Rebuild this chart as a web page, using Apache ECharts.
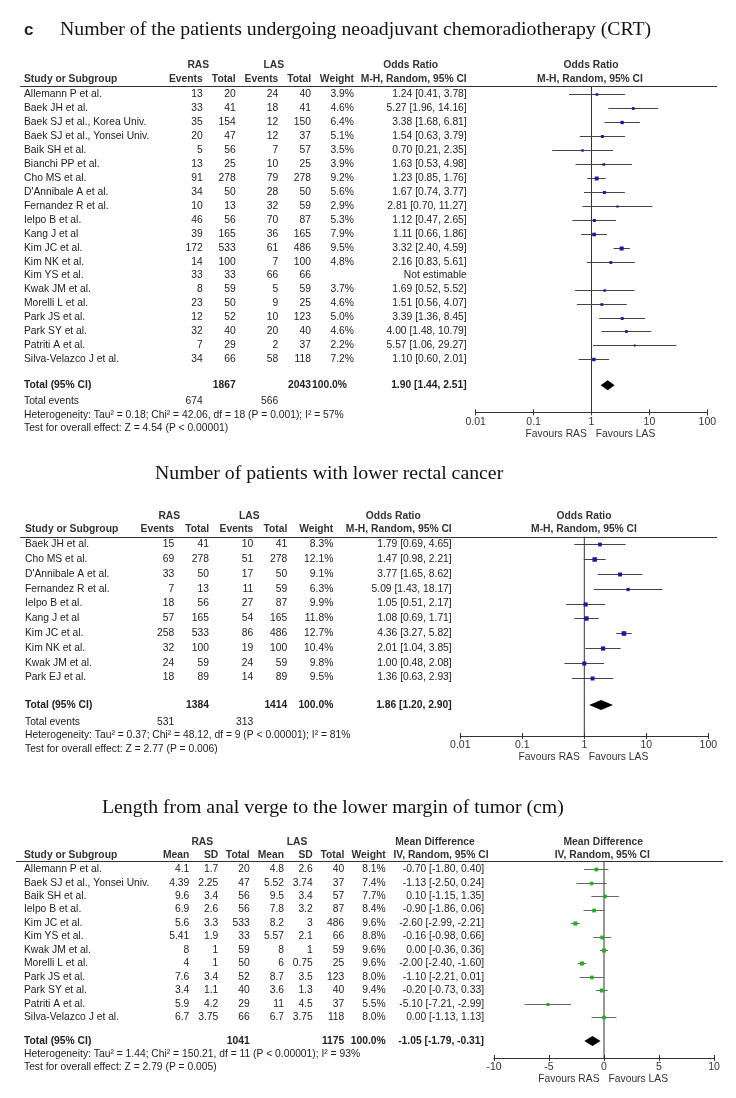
<!DOCTYPE html>
<html><head><meta charset="utf-8">
<script src="https://cdn.jsdelivr.net/npm/echarts@6/dist/echarts.min.js"></script>
<style>html,body{margin:0;padding:0;background:#fff}#c{width:736px;height:1098px}</style>
</head><body><div id="c"></div>
<script>
// ================= DATA =================
// Panel 1: neoadjuvant CRT
const crtStudies = ["Allemann P et al.","Baek JH et al.","Baek SJ et al., Korea Univ.","Baek SJ et al., Yonsei Univ.","Baik SH et al.","Bianchi PP et al.","Cho MS et al.","D'Annibale A et al.","Fernandez R et al.","Ielpo B et al.","Kang J et al","Kim JC et al.","Kim NK et al.","Kim YS et al.","Kwak JM et al.","Morelli L et al.","Park JS et al.","Park SY et al.","Patriti A et al.","Silva-Velazco J et al."];
const crtRasEvents = [13,33,35,20,5,13,91,34,10,46,39,172,14,33,8,23,12,32,7,34];
const crtRasTotal  = [20,41,154,47,56,25,278,50,13,56,165,533,100,33,59,50,52,40,29,66];
const crtLasEvents = [24,18,12,12,7,10,79,28,32,70,36,61,7,66,5,9,10,20,2,58];
const crtLasTotal  = [40,41,150,37,57,25,278,50,59,87,165,486,100,66,59,25,123,40,37,118];
const crtWeight    = [3.9,4.6,6.4,5.1,3.5,3.9,9.2,5.6,2.9,5.3,7.9,9.5,4.8,null,3.7,4.6,5.0,4.6,2.2,7.2];
const crtOR        = [1.24,5.27,3.38,1.54,0.70,1.63,1.23,1.67,2.81,1.12,1.11,3.32,2.16,null,1.69,1.51,3.39,4.00,5.57,1.10];
const crtLow       = [0.41,1.96,1.68,0.63,0.21,0.53,0.85,0.74,0.70,0.47,0.66,2.40,0.83,null,0.52,0.56,1.36,1.48,1.06,0.60];
const crtHigh      = [3.78,14.16,6.81,3.79,2.35,4.98,1.76,3.77,11.27,2.65,1.86,4.59,5.61,null,5.52,4.07,8.45,10.79,29.27,2.01];
const crtPooled    = [1.90,1.44,2.51];
const crtTotals    = [1867,2043];
const crtEvents    = [674,566];
const crtStats     = ["Heterogeneity: Tau\u00b2 = 0.18; Chi\u00b2 = 42.06, df = 18 (P = 0.001); I\u00b2 = 57%","Test for overall effect: Z = 4.54 (P < 0.00001)"];

// Panel 2: lower rectal cancer
const lrcStudies   = ["Baek JH et al.","Cho MS et al.","D'Annibale A et al.","Fernandez R et al.","Ielpo B et al.","Kang J et al","Kim JC et al.","Kim NK et al.","Kwak JM et al.","Park EJ et al."];
const lrcRasEvents = [15,69,33,7,18,57,258,32,24,18];
const lrcRasTotal  = [41,278,50,13,56,165,533,100,59,89];
const lrcLasEvents = [10,51,17,11,27,54,86,19,24,14];
const lrcLasTotal  = [41,278,50,59,87,165,486,100,59,89];
const lrcWeight    = [8.3,12.1,9.1,6.3,9.9,11.8,12.7,10.4,9.8,9.5];
const lrcOR        = [1.79,1.47,3.77,5.09,1.05,1.08,4.36,2.01,1.00,1.36];
const lrcLow       = [0.69,0.98,1.65,1.43,0.51,0.69,3.27,1.04,0.48,0.63];
const lrcHigh      = [4.65,2.21,8.62,18.17,2.17,1.71,5.82,3.85,2.08,2.93];
const lrcPooled    = [1.86,1.20,2.90];
const lrcTotals    = [1384,1414];
const lrcEvents    = [531,313];
const lrcStats     = ["Heterogeneity: Tau\u00b2 = 0.37; Chi\u00b2 = 48.12, df = 9 (P < 0.00001); I\u00b2 = 81%","Test for overall effect: Z = 2.77 (P = 0.006)"];

// Panel 3: length from anal verge
const lenStudies   = ["Allemann P et al.","Baek SJ et al., Yonsei Univ.","Baik SH et al.","Ielpo B et al.","Kim JC et al.","Kim YS et al.","Kwak JM et al.","Morelli L et al.","Park JS et al.","Park SY et al.","Patriti A et al.","Silva-Velazco J et al."];
const lenRasMean   = [4.1,4.39,9.6,6.9,5.6,5.41,8,4,7.6,3.4,5.9,6.7];
const lenRasSD     = [1.7,2.25,3.4,2.6,3.3,1.9,1,1,3.4,1.1,4.2,3.75];
const lenRasTotal  = [20,47,56,56,533,33,59,50,52,40,29,66];
const lenLasMean   = [4.8,5.52,9.5,7.8,8.2,5.57,8,6,8.7,3.6,11,6.7];
const lenLasSD     = [2.6,3.74,3.4,3.2,3,2.1,1,0.75,3.5,1.3,4.5,3.75];
const lenLasTotal  = [40,37,57,87,486,66,59,25,123,40,37,118];
const lenWeight    = [8.1,7.4,7.7,8.4,9.6,8.8,9.6,9.6,8.0,9.4,5.5,8.0];
const lenMD        = [-0.70,-1.13,0.10,-0.90,-2.60,-0.16,0.00,-2.00,-1.10,-0.20,-5.10,0.00];
const lenLow       = [-1.80,-2.50,-1.15,-1.86,-2.99,-0.98,-0.36,-2.40,-2.21,-0.73,-7.21,-1.13];
const lenHigh      = [0.40,0.24,1.35,0.06,-2.21,0.66,0.36,-1.60,0.01,0.33,-2.99,1.13];
const lenPooled    = [-1.05,-1.79,-0.31];
const lenTotals    = [1041,1175];
const lenStats     = ["Heterogeneity: Tau\u00b2 = 1.44; Chi\u00b2 = 150.21, df = 11 (P < 0.00001); I\u00b2 = 93%","Test for overall effect: Z = 2.79 (P = 0.005)"];

const titles = ["Number of the patients undergoing neoadjuvant chemoradiotherapy (CRT)","Number of patients with lower rectal cancer","Length from anal verge to the lower margin of tumor (cm)"];
const orTicks = [0.01,0.1,1,10,100];
const mdTicks = [-10,-5,0,5,10];

// ================= LAYOUT =================
const SANS = "'Liberation Sans', Arial, sans-serif";
const SERIF = "'Liberation Serif', 'Times New Roman', serif";
const FS = 10.3;
const TXT = '#222', HDR = '#333';
const P1 = {y0:94.3, pitch:13.95, top:86, axisY:412.3, left:475.7, right:707.3, center:591.3, totalR:20.86};
const P2 = {y0:544.3, pitch:14.8,  top:536.7, axisY:736, left:460.3, right:708.3, center:584.3, totalR:10.86};
const P3 = {y0:869.3, pitch:13.45, top:861, axisY:1058, left:494, right:714, center:604, totalR:12.77};
function rowY(p, r){ return p.y0 + r*p.pitch; }

const G = [];
function T(text, x, y, align, opt){
  opt = opt || {};
  G.push({type:'text', silent:true, x:x, y:y, style:{
    text:String(text), font:(opt.bold?'bold ':'') + (opt.size||FS) + 'px ' + (opt.family||SANS),
    fill:opt.color||TXT, align:align, textAlign:align, verticalAlign:'middle', textVerticalAlign:'middle'}});
}
function HL(x1,x2,y){ G.push({type:'line', silent:true, shape:{x1:x1,y1:Math.round(y)+0.5,x2:x2,y2:Math.round(y)+0.5}, style:{stroke:'#333', lineWidth:1}}); }
const f2 = v => v.toFixed(2);
const ciText = (e,l,h) => f2(e) + ' [' + f2(l) + ', ' + f2(h) + ']';
const pct = v => v.toFixed(1) + '%';

// label + titles
T('c', 24, 30, 'left', {bold:true, size:17});
T(titles[0], 60, 30, 'left', {size:19.8, family:SERIF, color:'#111'});
T(titles[1], 155, 474, 'left', {size:19.8, family:SERIF, color:'#111'});
T(titles[2], 102, 808, 'left', {size:19.8, family:SERIF, color:'#111'});

// ---- Panel 1 table ----
(function(){
  const c = [202.7,235.7,278.3,311,354,466.7];
  const h = {bold:true, color:HDR};
  T('RAS',198.3,65,'center',h); T('LAS',273.7,65,'center',h);
  T('Odds Ratio',410.7,65,'center',h); T('Odds Ratio',591,65,'center',h);
  T('Study or Subgroup',24,79,'left',h);
  T('Events',c[0],79,'right',h); T('Total',c[1],79,'right',h);
  T('Events',c[2],79,'right',h); T('Total',c[3],79,'right',h);
  T('Weight',c[4],79,'right',h); T('M-H, Random, 95% CI',c[5],79,'right',h);
  T('M-H, Random, 95% CI',590,79,'center',h);
  HL(20,717,86);
  crtStudies.forEach((s,i)=>{
    const y = rowY(P1,i);
    T(s,24,y,'left');
    T(crtRasEvents[i],c[0],y,'right'); T(crtRasTotal[i],c[1],y,'right');
    T(crtLasEvents[i],c[2],y,'right'); T(crtLasTotal[i],c[3],y,'right');
    if (crtWeight[i]!=null) T(pct(crtWeight[i]),c[4],y,'right');
    T(crtOR[i]!=null ? ciText(crtOR[i],crtLow[i],crtHigh[i]) : 'Not estimable', c[5], y, 'right');
  });
  const yt = rowY(P1,P1.totalR), b={bold:true};
  T('Total (95% CI)',24,yt,'left',b); T(crtTotals[0],c[1],yt,'right',b); T(crtTotals[1],c[3],yt,'right',b);
  T('100.0%',347,yt,'right',b); T(ciText(crtPooled[0],crtPooled[1],crtPooled[2]),c[5],yt,'right',b);
  T('Total events',24,400.7,'left'); T(crtEvents[0],c[0],400.7,'right'); T(crtEvents[1],c[2],400.7,'right');
  T(crtStats[0],24,415,'left'); T(crtStats[1],24,428.3,'left');
  T('Favours RAS',P1.center-4.5,434,'right',{color:HDR}); T('Favours LAS',P1.center+4.5,434,'left',{color:HDR});
})();

// ---- Panel 2 table ----
(function(){
  const c = [174.3,209,253.3,287.3,333.3,451.7];
  const h = {bold:true, color:HDR};
  T('RAS',169.3,515.7,'center',h); T('LAS',249.3,515.7,'center',h);
  T('Odds Ratio',393.3,515.7,'center',h); T('Odds Ratio',584,515.7,'center',h);
  T('Study or Subgroup',25,529.3,'left',h);
  T('Events',c[0],529.3,'right',h); T('Total',c[1],529.3,'right',h);
  T('Events',c[2],529.3,'right',h); T('Total',c[3],529.3,'right',h);
  T('Weight',c[4],529.3,'right',h); T('M-H, Random, 95% CI',c[5],529.3,'right',h);
  T('M-H, Random, 95% CI',584,529.3,'center',h);
  HL(20,717,536.7);
  lrcStudies.forEach((s,i)=>{
    const y = rowY(P2,i);
    T(s,25,y,'left');
    T(lrcRasEvents[i],c[0],y,'right'); T(lrcRasTotal[i],c[1],y,'right');
    T(lrcLasEvents[i],c[2],y,'right'); T(lrcLasTotal[i],c[3],y,'right');
    T(pct(lrcWeight[i]),c[4],y,'right');
    T(ciText(lrcOR[i],lrcLow[i],lrcHigh[i]),c[5],y,'right');
  });
  const yt = rowY(P2,P2.totalR), b={bold:true};
  T('Total (95% CI)',25,yt,'left',b); T(lrcTotals[0],c[1],yt,'right',b); T(lrcTotals[1],c[3],yt,'right',b);
  T('100.0%',c[4],yt,'right',b); T(ciText(lrcPooled[0],lrcPooled[1],lrcPooled[2]),c[5],yt,'right',b);
  T('Total events',25,721.7,'left'); T(lrcEvents[0],c[0],721.7,'right'); T(lrcEvents[1],c[2],721.7,'right');
  T(lrcStats[0],25,735.5,'left'); T(lrcStats[1],25,749,'left');
  T('Favours RAS',P2.center-4.5,757,'right',{color:HDR}); T('Favours LAS',P2.center+4.5,757,'left',{color:HDR});
})();

// ---- Panel 3 table ----
(function(){
  const c = [189.3,218.3,249.7,284,312.7,344.3,385.7,484];
  const h = {bold:true, color:HDR};
  T('RAS',202.3,841.7,'center',h); T('LAS',297,841.7,'center',h);
  T('Mean Difference',435,841.7,'center',h); T('Mean Difference',603.3,841.7,'center',h);
  T('Study or Subgroup',24,855,'left',h);
  T('Mean',c[0],855,'right',h); T('SD',c[1],855,'right',h); T('Total',c[2],855,'right',h);
  T('Mean',c[3],855,'right',h); T('SD',c[4],855,'right',h); T('Total',c[5],855,'right',h);
  T('Weight',c[6],855,'right',h); T('IV, Random, 95% CI',441,855,'center',h);
  T('IV, Random, 95% CI',602.3,855,'center',h);
  HL(16,723,861);
  lenStudies.forEach((s,i)=>{
    const y = rowY(P3,i);
    T(s,24,y,'left');
    T(lenRasMean[i],c[0],y,'right'); T(lenRasSD[i],c[1],y,'right'); T(lenRasTotal[i],c[2],y,'right');
    T(lenLasMean[i],c[3],y,'right'); T(lenLasSD[i],c[4],y,'right'); T(lenLasTotal[i],c[5],y,'right');
    T(pct(lenWeight[i]),c[6],y,'right');
    T(ciText(lenMD[i],lenLow[i],lenHigh[i]),c[7],y,'right');
  });
  const yt = rowY(P3,P3.totalR), b={bold:true};
  T('Total (95% CI)',24,yt,'left',b); T(lenTotals[0],c[2],yt,'right',b); T(lenTotals[1],c[5],yt,'right',b);
  T('100.0%',c[6],yt,'right',b); T(ciText(lenPooled[0],lenPooled[1],lenPooled[2]),c[7],yt,'right',b);
  T(lenStats[0],24,1054,'left'); T(lenStats[1],24,1067,'left');
  T('Favours RAS',P3.center-4.5,1079,'right',{color:HDR}); T('Favours LAS',P3.center+4.5,1079,'left',{color:HDR});
})();

// ================= CHART =================
const panels = [P1,P2,P3];
const grids = panels.map(p => ({left:p.left, width:p.right-p.left, top:p.top, height:p.axisY-p.top, containLabel:false, outerBoundsMode:'none'}));
const yAxes = panels.map((p,i) => ({gridIndex:i, type:'value', inverse:true, show:false,
  min:(p.top-p.y0)/p.pitch, max:(p.axisY-p.y0)/p.pitch, splitLine:{show:false}}));
function xPair(i, isLog){
  const base = isLog ? {type:'log', logBase:10, min:orTicks[0], max:orTicks[orTicks.length-1]}
                     : {type:'value', min:mdTicks[0], max:mdTicks[mdTicks.length-1], interval:5};
  const common = Object.assign({gridIndex:i, position:'bottom', splitLine:{show:false}, minorTick:{show:false},
    axisLine:{show:true, onZero:false, lineStyle:{color:'#333', width:1}}}, base);
  return [
    Object.assign({}, common, {axisTick:{show:true, inside:false, length:3, lineStyle:{color:'#333'}},
      axisLabel:{show:true, margin:4, fontSize:10.5, fontFamily:SANS, color:'#333',
        formatter: v => String(+(+v).toPrecision(6))}}),
    Object.assign({}, common, {axisTick:{show:true, inside:true, length:3, lineStyle:{color:'#333'}}, axisLabel:{show:false}})
  ];
}
const xAxes = [].concat(xPair(0,true), xPair(1,true), xPair(2,false));

function studySeries(gi, est, lo, hi, w, fill, stroke){
  const data = [];
  est.forEach((e,i)=>{ if (e!=null) data.push([e, lo[i], hi[i], w[i], i]); });
  return {type:'custom', xAxisIndex:gi*2, yAxisIndex:gi, silent:true, clip:false,
    encode:{x:[0,1,2], y:4}, data:data,
    renderItem:(params, api)=>{
      const r = api.value(4);
      const pe = api.coord([api.value(0), r]), pl = api.coord([api.value(1), r]), ph = api.coord([api.value(2), r]);
      const s = Math.max(2, 1.3*Math.sqrt(api.value(3)));
      const yy = Math.round(pe[1]) + 0.5;
      return {type:'group', children:[
        {type:'line', shape:{x1:pl[0], y1:yy, x2:ph[0], y2:yy}, style:{stroke:stroke, lineWidth:1}},
        {type:'rect', shape:{x:pe[0]-s/2, y:yy-s/2, width:s, height:s}, style:{fill:fill}}
      ]};
    }};
}
function pooledSeries(gi, pooled, r){
  return {type:'custom', xAxisIndex:gi*2, yAxisIndex:gi, silent:true, clip:false,
    encode:{x:[0,1,2], y:3}, data:[[pooled[0], pooled[1], pooled[2], r]],
    renderItem:(params, api)=>{
      const rr = api.value(3);
      const pe = api.coord([api.value(0), rr]), pl = api.coord([api.value(1), rr]), ph = api.coord([api.value(2), rr]);
      const hh = 5;
      return {type:'polygon', shape:{points:[[pl[0],pe[1]],[pe[0],pe[1]-hh],[ph[0],pe[1]],[pe[0],pe[1]+hh]]}, style:{fill:'#000'}};
    }};
}
function refLine(gi, x){
  const ya = yAxes[gi];
  return {type:'line', xAxisIndex:gi*2, yAxisIndex:gi, silent:true, symbol:'none',
    data:[[x, ya.min],[x, ya.max]], lineStyle:{color:'#333', width:1}, z:1};
}

const series = [
  refLine(0,1), studySeries(0, crtOR, crtLow, crtHigh, crtWeight, '#1a1aa0', '#444'), pooledSeries(0, crtPooled, P1.totalR),
  refLine(1,1), studySeries(1, lrcOR, lrcLow, lrcHigh, lrcWeight, '#1a1aa0', '#444'), pooledSeries(1, lrcPooled, P2.totalR),
  refLine(2,0), studySeries(2, lenMD, lenLow, lenHigh, lenWeight, '#22b022', '#666'), pooledSeries(2, lenPooled, P3.totalR)
];

const chart = echarts.init(document.getElementById('c'));
chart.setOption({
  animation:false, backgroundColor:'#fff',
  grid:grids, xAxis:xAxes, yAxis:yAxes, series:series, graphic:{elements:G}
});
</script></body></html>
